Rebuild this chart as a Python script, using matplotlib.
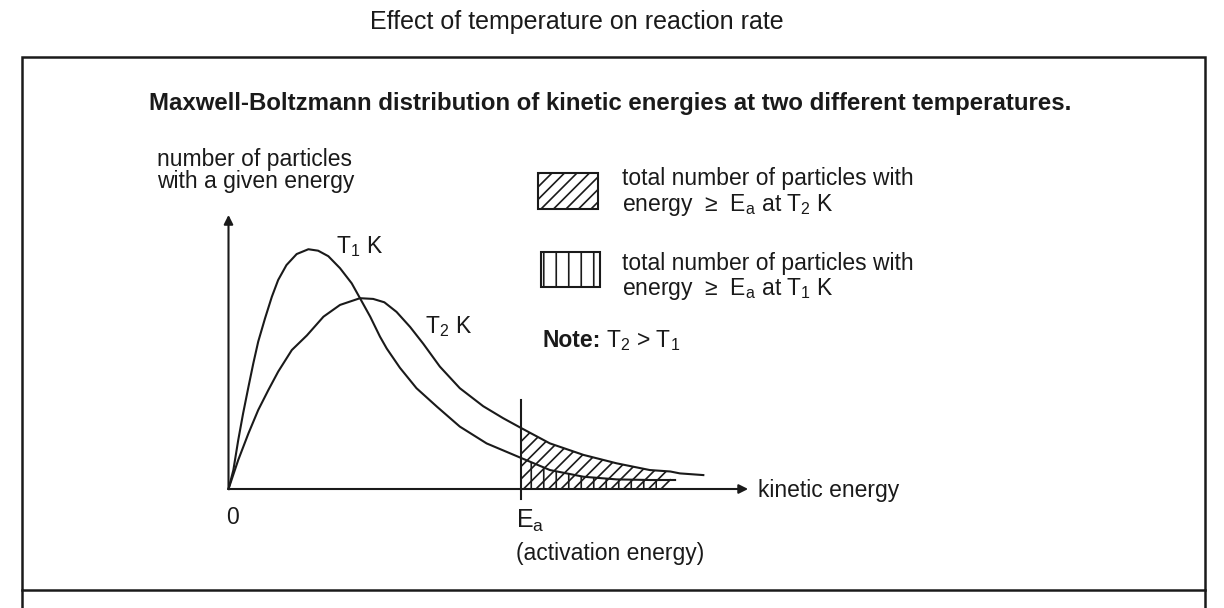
import matplotlib
matplotlib.use("Agg")
import matplotlib.pyplot as plt
from matplotlib.patches import Rectangle
from matplotlib.lines import Line2D
import numpy as np

plt.rcParams['font.family'] = ['Liberation Sans', 'DejaVu Sans']
plt.rcParams['mathtext.fontset'] = 'custom'
plt.rcParams['mathtext.rm'] = 'Liberation Sans'
plt.rcParams['mathtext.it'] = 'Liberation Sans:italic'
plt.rcParams['mathtext.bf'] = 'Liberation Sans:bold'
plt.rcParams['hatch.linewidth'] = 0.8

# curves (arbitrary energy / count units)
t1_energy = [0, 0.10, 0.20, 0.30, 0.41, 0.51, 0.61, 0.75, 0.89, 1.02, 1.19, 1.40, 1.64,
             1.84, 2.05, 2.29, 2.53, 2.70, 2.91, 3.11, 3.25, 3.52, 3.86, 4.28, 4.75,
             5.30, 6.0, 6.60, 7.29, 7.97, 8.65, 8.80, 9.17]
t1_count = [0, 0.79, 2.04, 3.15, 4.26, 5.24, 6.14, 7.11, 8.01, 8.71, 9.33, 9.79, 9.99,
            9.93, 9.70, 9.20, 8.57, 7.95, 7.18, 6.35, 5.85, 5.05, 4.20, 3.43, 2.60,
            1.90, 1.30, 0.79, 0.51, 0.40, 0.375, 0.375, 0.375]

t2_energy = [0, 0.20, 0.41, 0.61, 0.82, 1.02, 1.30, 1.61, 1.95, 2.29, 2.70, 2.97, 3.20,
             3.45, 3.73, 4.00, 4.34, 4.75, 5.23, 5.64, 6.0, 6.60, 7.29, 7.97, 8.65,
             9.07, 9.27, 9.75]
t2_count = [0, 1.21, 2.32, 3.29, 4.13, 4.89, 5.79, 6.40, 7.18, 7.67, 7.95, 7.92, 7.78,
            7.38, 6.75, 6.05, 5.10, 4.20, 3.45, 2.95, 2.55, 1.90, 1.42, 1.07, 0.79,
            0.73, 0.65, 0.58]

ea = 6.0
t1_hatch_end = 8.80
t2_hatch_end = 9.07
y_axis_top = 11.42
x_axis_end = 10.67

ink = '#1a1a1a'
W, H = 1224, 608
fig = plt.figure(figsize=(W / 150, H / 150), dpi=150)
fig.patch.set_facecolor('white')

def fx(px):
    return px / W

def fy(py):
    return 1 - py / H

# axes over the whole figure, data units mapped onto the drawing
ax = fig.add_axes([0, 0, 1, 1])
ax.set_xlim((0 - 228.5) / 48.7, (W - 228.5) / 48.7)
ax.set_ylim((489 - H) / 24, 489 / 24)
ax.axis('off')

e1 = np.array(t1_energy)
n1 = np.array(t1_count)
e2 = np.array(t2_energy)
n2 = np.array(t2_count)

# shaded tails
ax.fill_between(e2, n2, 0, where=(e2 >= ea) & (e2 <= t2_hatch_end),
                facecolor='none', edgecolor=ink, hatch='////', linewidth=0)
ax.fill_between(e1, n1, 0, where=(e1 >= ea) & (e1 <= t1_hatch_end),
                facecolor='none', edgecolor=ink, hatch='||', linewidth=0)

ax.plot(e1, n1, color=ink, lw=1.0, solid_joinstyle='round')
ax.plot(e2, n2, color=ink, lw=1.0, solid_joinstyle='round')

# axes arrows
arrow = dict(arrowstyle='-|>', color=ink, lw=1.0, mutation_scale=9, shrinkA=0, shrinkB=0)
ax.annotate('', xy=(0, y_axis_top), xytext=(0, 0), arrowprops=arrow)
ax.annotate('', xy=(x_axis_end, 0), xytext=(0, 0), arrowprops=arrow)
ax.plot([ea, ea], [-0.42, 3.71], color=ink, lw=1.0)

# frame
fig.add_artist(Rectangle((fx(22), fy(590)), fx(1205) - fx(22), fy(57) - fy(590),
                         transform=fig.transFigure, fill=False, edgecolor=ink, lw=1.2))
fig.add_artist(Line2D([fx(22), fx(22)], [fy(590), 0], transform=fig.transFigure, color=ink, lw=1.2))
fig.add_artist(Line2D([fx(1205), fx(1205)], [fy(590), 0], transform=fig.transFigure, color=ink, lw=1.2))

# legend boxes
fig.add_artist(Rectangle((fx(538), fy(209)), fx(598) - fx(538), fy(173) - fy(209),
                         transform=fig.transFigure, facecolor='none', edgecolor=ink,
                         hatch='////', lw=1.0))
fig.add_artist(Rectangle((fx(541), fy(287)), fx(600) - fx(541), fy(252) - fy(287),
                         transform=fig.transFigure, facecolor='none', edgecolor=ink,
                         hatch='||', lw=1.0))

fs = 11
# texts
fig.text(fx(577), fy(29), 'Effect of temperature on reaction rate', ha='center', va='baseline',
         fontsize=12, color=ink)
fig.text(fx(610), fy(110), 'Maxwell-Boltzmann distribution of kinetic energies at two different temperatures.',
         ha='center', va='baseline', fontsize=11.5, fontweight='bold', color=ink)
fig.text(fx(157), fy(188), 'number of particles\nwith a given energy', ha='left', va='baseline',
         fontsize=fs, linespacing=0.97, color=ink)

fig.text(fx(622), fy(185), 'total number of particles with', ha='left', va='baseline', fontsize=fs, color=ink)
fig.text(fx(622), fy(211), 'energy  \u2265  E$_\\mathrm{a}$ at T$_\\mathrm{2}$ K', ha='left', va='baseline',
         fontsize=fs, color=ink)
fig.text(fx(622), fy(270), 'total number of particles with', ha='left', va='baseline', fontsize=fs, color=ink)
fig.text(fx(622), fy(295), 'energy  \u2265  E$_\\mathrm{a}$ at T$_\\mathrm{1}$ K', ha='left', va='baseline',
         fontsize=fs, color=ink)
fig.text(fx(543), fy(347), 'Note:', ha='left', va='baseline', fontsize=fs, fontweight='bold', color=ink)
fig.text(fx(606), fy(347), 'T$_\\mathrm{2}$ > T$_\\mathrm{1}$', ha='left', va='baseline', fontsize=fs, color=ink)

fig.text(fx(336), fy(253), 'T$_\\mathrm{1}$ K', ha='left', va='baseline', fontsize=fs, color=ink)
fig.text(fx(425), fy(333), 'T$_\\mathrm{2}$ K', ha='left', va='baseline', fontsize=fs, color=ink)

fig.text(fx(226), fy(524), '0', ha='left', va='baseline', fontsize=fs, color=ink)
fig.text(fx(516), fy(528), 'E$_\\mathrm{a}$', ha='left', va='baseline', fontsize=12, color=ink)
fig.text(fx(516), fy(560), '(activation energy)', ha='left', va='baseline', fontsize=fs, color=ink)
fig.text(fx(758), fy(497), 'kinetic energy', ha='left', va='baseline', fontsize=fs, color=ink)

fig.savefig('out.png', dpi=150, facecolor='white')
